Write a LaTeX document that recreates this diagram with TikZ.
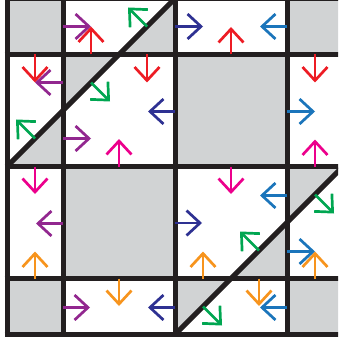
\documentclass[tikz,border=0pt]{standalone}
\usetikzlibrary{arrows.meta}
\definecolor{cred}{HTML}{ED1C24}
\definecolor{cpurple}{HTML}{92278F}
\definecolor{cdblue}{HTML}{2E3192}
\definecolor{clblue}{HTML}{1B75BB}
\definecolor{cmag}{HTML}{EC008C}
\definecolor{cgreen}{HTML}{00A651}
\definecolor{corange}{HTML}{F7941D}
\definecolor{cgray}{HTML}{D1D3D4}
\definecolor{cline}{HTML}{231F20}
\tikzset{
  grayfill/.style={fill=cgray},
  gridline/.style={draw=cline, line width=5pt},
  arr/.style={line width=2.7pt, -{Straight Barb[length=13.5pt,width=25pt]}},
}
\begin{document}
\begin{tikzpicture}[x=1pt,y=-1pt]
\useasboundingbox (0,0) rectangle (338,339);
\begin{scope}
\clip (0,0) rectangle (338,337.5);
% gray regions
\fill[grayfill] (7,-1.5) rectangle (63,54.5);
\fill[grayfill] (119,54.5) -- (175,54.5) -- (175,-1.5) -- cycle;
\fill[grayfill] (63,54.5) -- (119,54.5) -- (63,110.5) -- cycle;
\fill[grayfill] (63,110.5) -- (63,166.5) -- (7,166.5) -- cycle;
\fill[grayfill] (287,-1.5) rectangle (343,54.5);
\fill[grayfill] (175,54.5) rectangle (287,166.5);
\fill[grayfill] (63,166.5) rectangle (175,278.5);
\fill[grayfill] (231,278.5) -- (287,278.5) -- (287,222.5) -- cycle;
\fill[grayfill] (287,166.5) -- (343,166.5) -- (287,222.5) -- cycle;
\fill[grayfill] (175,278.5) -- (231,278.5) -- (175,334.5) -- cycle;
\fill[grayfill] (7,278.5) rectangle (63,334.5);
\fill[grayfill] (287,278.5) rectangle (343,334.5);
% grid lines
\foreach \x in {7,63,175,287} \draw[gridline] (\x,-4) -- (\x,337);
\foreach \y in {-1.5,54.5,166.5,278.5,334.5} \draw[gridline] (4.5,\y) -- (345,\y);
\draw[gridline] (7,166.5) -- (175,-1.5);
\draw[gridline] (175,334.5) -- (343,166.5);
\end{scope}
% arrows
\draw[arr,cpurple] (63,26.5) -- (91,26.5);
\draw[arr,cred] (91,54.5) -- (91,26.5);
\draw[arr,cgreen] (147,26.5) -- (128,7.5);
\draw[arr,cred] (35,54.5) -- (35,82.5);
\draw[arr,cpurple] (63,82.5) -- (35,82.5);
\draw[arr,cgreen] (91,82.5) -- (110,101.5);
\draw[arr,cred] (147,54.5) -- (147,82.5);
\draw[arr,cdblue] (175,111.5) -- (148,111.5);
\draw[arr,cgreen] (35,138.5) -- (16,119.5);
\draw[arr,cpurple] (63,138.5) -- (91,138.5);
\draw[arr,cmag] (119,166.5) -- (119,139);
\draw[arr,cdblue] (175,26.5) -- (203,26.5);
\draw[arr,cred] (231,54.5) -- (231,27);
\draw[arr,clblue] (287,26.5) -- (260,26.5);
\draw[arr,cred] (315,54.5) -- (315,82.5);
\draw[arr,clblue] (287,111.5) -- (315,111.5);
\draw[arr,cmag] (315,166.5) -- (315,139.5);
\draw[arr,cmag] (35,166.5) -- (35,194);
\draw[arr,cpurple] (63,223.5) -- (36,223.5);
\draw[arr,corange] (35,278.5) -- (35,251.5);
\draw[arr,cpurple] (63,307.5) -- (90,307.5);
\draw[arr,corange] (119,278.5) -- (119,306);
\draw[arr,cdblue] (175,307.5) -- (148,307.5);
\draw[arr,cmag] (231,166.5) -- (231,194);
\draw[arr,clblue] (287,195.5) -- (260,195.5);
\draw[arr,cdblue] (175,223) -- (202,223);
\draw[arr,cgreen] (259,250.5) -- (240,231.5);
\draw[arr,corange] (203,278.5) -- (203,251.5);
\draw[arr,cgreen] (315,194.5) -- (334,213.5);
\draw[arr,clblue] (287,251.5) -- (315,251.5);
\draw[arr,corange] (315,278.5) -- (315,251.5);
\draw[arr,corange] (259,278.5) -- (259,306);
\draw[arr,clblue] (287,307.5) -- (260,307.5);
\draw[arr,cgreen] (203,306.5) -- (222,325.5);
\end{tikzpicture}
\end{document}
